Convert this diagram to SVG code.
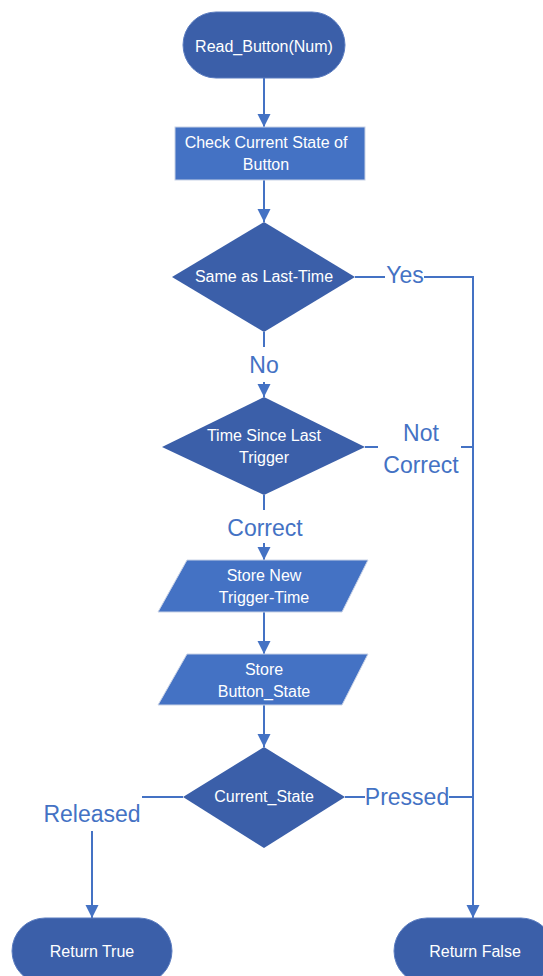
<svg xmlns="http://www.w3.org/2000/svg" width="543" height="976" viewBox="0 0 543 976">
  <style>
    .term { fill: #3B5FA9; stroke: #5B7CC0; stroke-width: 1; }
    .dec { fill: #3B5FA9; }
    .proc { fill: #4472C4; stroke: #C8D2E6; stroke-width: 1; }
    .node-text { font-family: "Liberation Sans", Arial, sans-serif; font-size: 16px; fill: #FFFFFF; text-anchor: middle; }
    .label { font-family: "Liberation Sans", Arial, sans-serif; font-size: 23px; fill: #4472C4; text-anchor: middle; }
    .conn { fill: none; stroke: #4472C4; stroke-width: 2; }
  </style>
  <defs>
    <marker id="arrow" viewBox="0 0 10 10" refX="10" refY="5" markerWidth="13" markerHeight="15" markerUnits="userSpaceOnUse" orient="auto">
      <path d="M0,0 L10,5 L0,10 z" fill="#4472C4"/>
    </marker>
  </defs>

  <rect width="543" height="976" fill="#FFFFFF"/>

  <!-- connectors -->
  <g id="connectors">
    <path class="conn" d="M264,78 L264,127" marker-end="url(#arrow)"/>
    <path class="conn" d="M264,180 L264,222" marker-end="url(#arrow)"/>
    <path class="conn" d="M264,332 L264,347"/>
    <path class="conn" d="M264,382 L264,397" marker-end="url(#arrow)"/>
    <path class="conn" d="M264,495 L264,510"/>
    <path class="conn" d="M264,543 L264,560" marker-end="url(#arrow)"/>
    <path class="conn" d="M264,612 L264,654" marker-end="url(#arrow)"/>
    <path class="conn" d="M264,705 L264,747" marker-end="url(#arrow)"/>
    <!-- Yes branch to Return False -->
    <path class="conn" d="M355,277 L385,277"/>
    <path class="conn" d="M424,277 L473,277 L473,918" marker-end="url(#arrow)"/>
    <!-- Not Correct branch -->
    <path class="conn" d="M365,447 L378,447"/>
    <path class="conn" d="M461,447 L473,447"/>
    <!-- Pressed branch -->
    <path class="conn" d="M345,797 L365,797"/>
    <path class="conn" d="M449,797 L473,797"/>
    <!-- Released branch -->
    <path class="conn" d="M183,797 L142,797"/>
    <path class="conn" d="M92,831 L92,918" marker-end="url(#arrow)"/>
  </g>

  <!-- connector labels -->
  <g id="labels">
    <text class="label" x="405" y="283">Yes</text>
    <text class="label" x="264" y="373">No</text>
    <text class="label" x="421" y="441">Not</text>
    <text class="label" x="421" y="473">Correct</text>
    <text class="label" x="265" y="536">Correct</text>
    <text class="label" x="407" y="805">Pressed</text>
    <text class="label" x="92" y="822">Released</text>
  </g>

  <g id="start">
    <rect class="term" x="183" y="12" width="162" height="66" rx="33" ry="33"/>
    <text class="node-text" x="264" y="52">Read_Button(Num)</text>
  </g>

  <g id="check-state">
    <rect class="proc" x="175" y="127" width="190" height="53"/>
    <text class="node-text" x="266" y="148">Check Current State of</text>
    <text class="node-text" x="266" y="170">Button</text>
  </g>

  <g id="same-as-last">
    <polygon class="dec" points="264,222 355,277 264,332 172,277"/>
    <text class="node-text" x="264" y="282">Same as Last-Time</text>
  </g>

  <g id="time-since">
    <polygon class="dec" points="264,397 365,447 264,495 162,447"/>
    <text class="node-text" x="264" y="441">Time Since Last</text>
    <text class="node-text" x="264" y="463">Trigger</text>
  </g>

  <g id="store-time">
    <polygon class="proc" points="187,560 368,560 342,612 158,612"/>
    <text class="node-text" x="264" y="581">Store New</text>
    <text class="node-text" x="264" y="603">Trigger-Time</text>
  </g>

  <g id="store-state">
    <polygon class="proc" points="187,654 368,654 342,705 158,705"/>
    <text class="node-text" x="264" y="675">Store</text>
    <text class="node-text" x="264" y="697">Button_State</text>
  </g>

  <g id="current-state">
    <polygon class="dec" points="264,747 345,797 264,848 183,797"/>
    <text class="node-text" x="264" y="802">Current_State</text>
  </g>

  <g id="return-true">
    <rect class="term" x="12" y="918" width="160" height="66" rx="33" ry="33"/>
    <text class="node-text" x="92" y="957">Return True</text>
  </g>

  <g id="return-false">
    <rect class="term" x="394" y="918" width="160" height="66" rx="33" ry="33"/>
    <text class="node-text" x="475" y="957">Return False</text>
  </g>
</svg>
